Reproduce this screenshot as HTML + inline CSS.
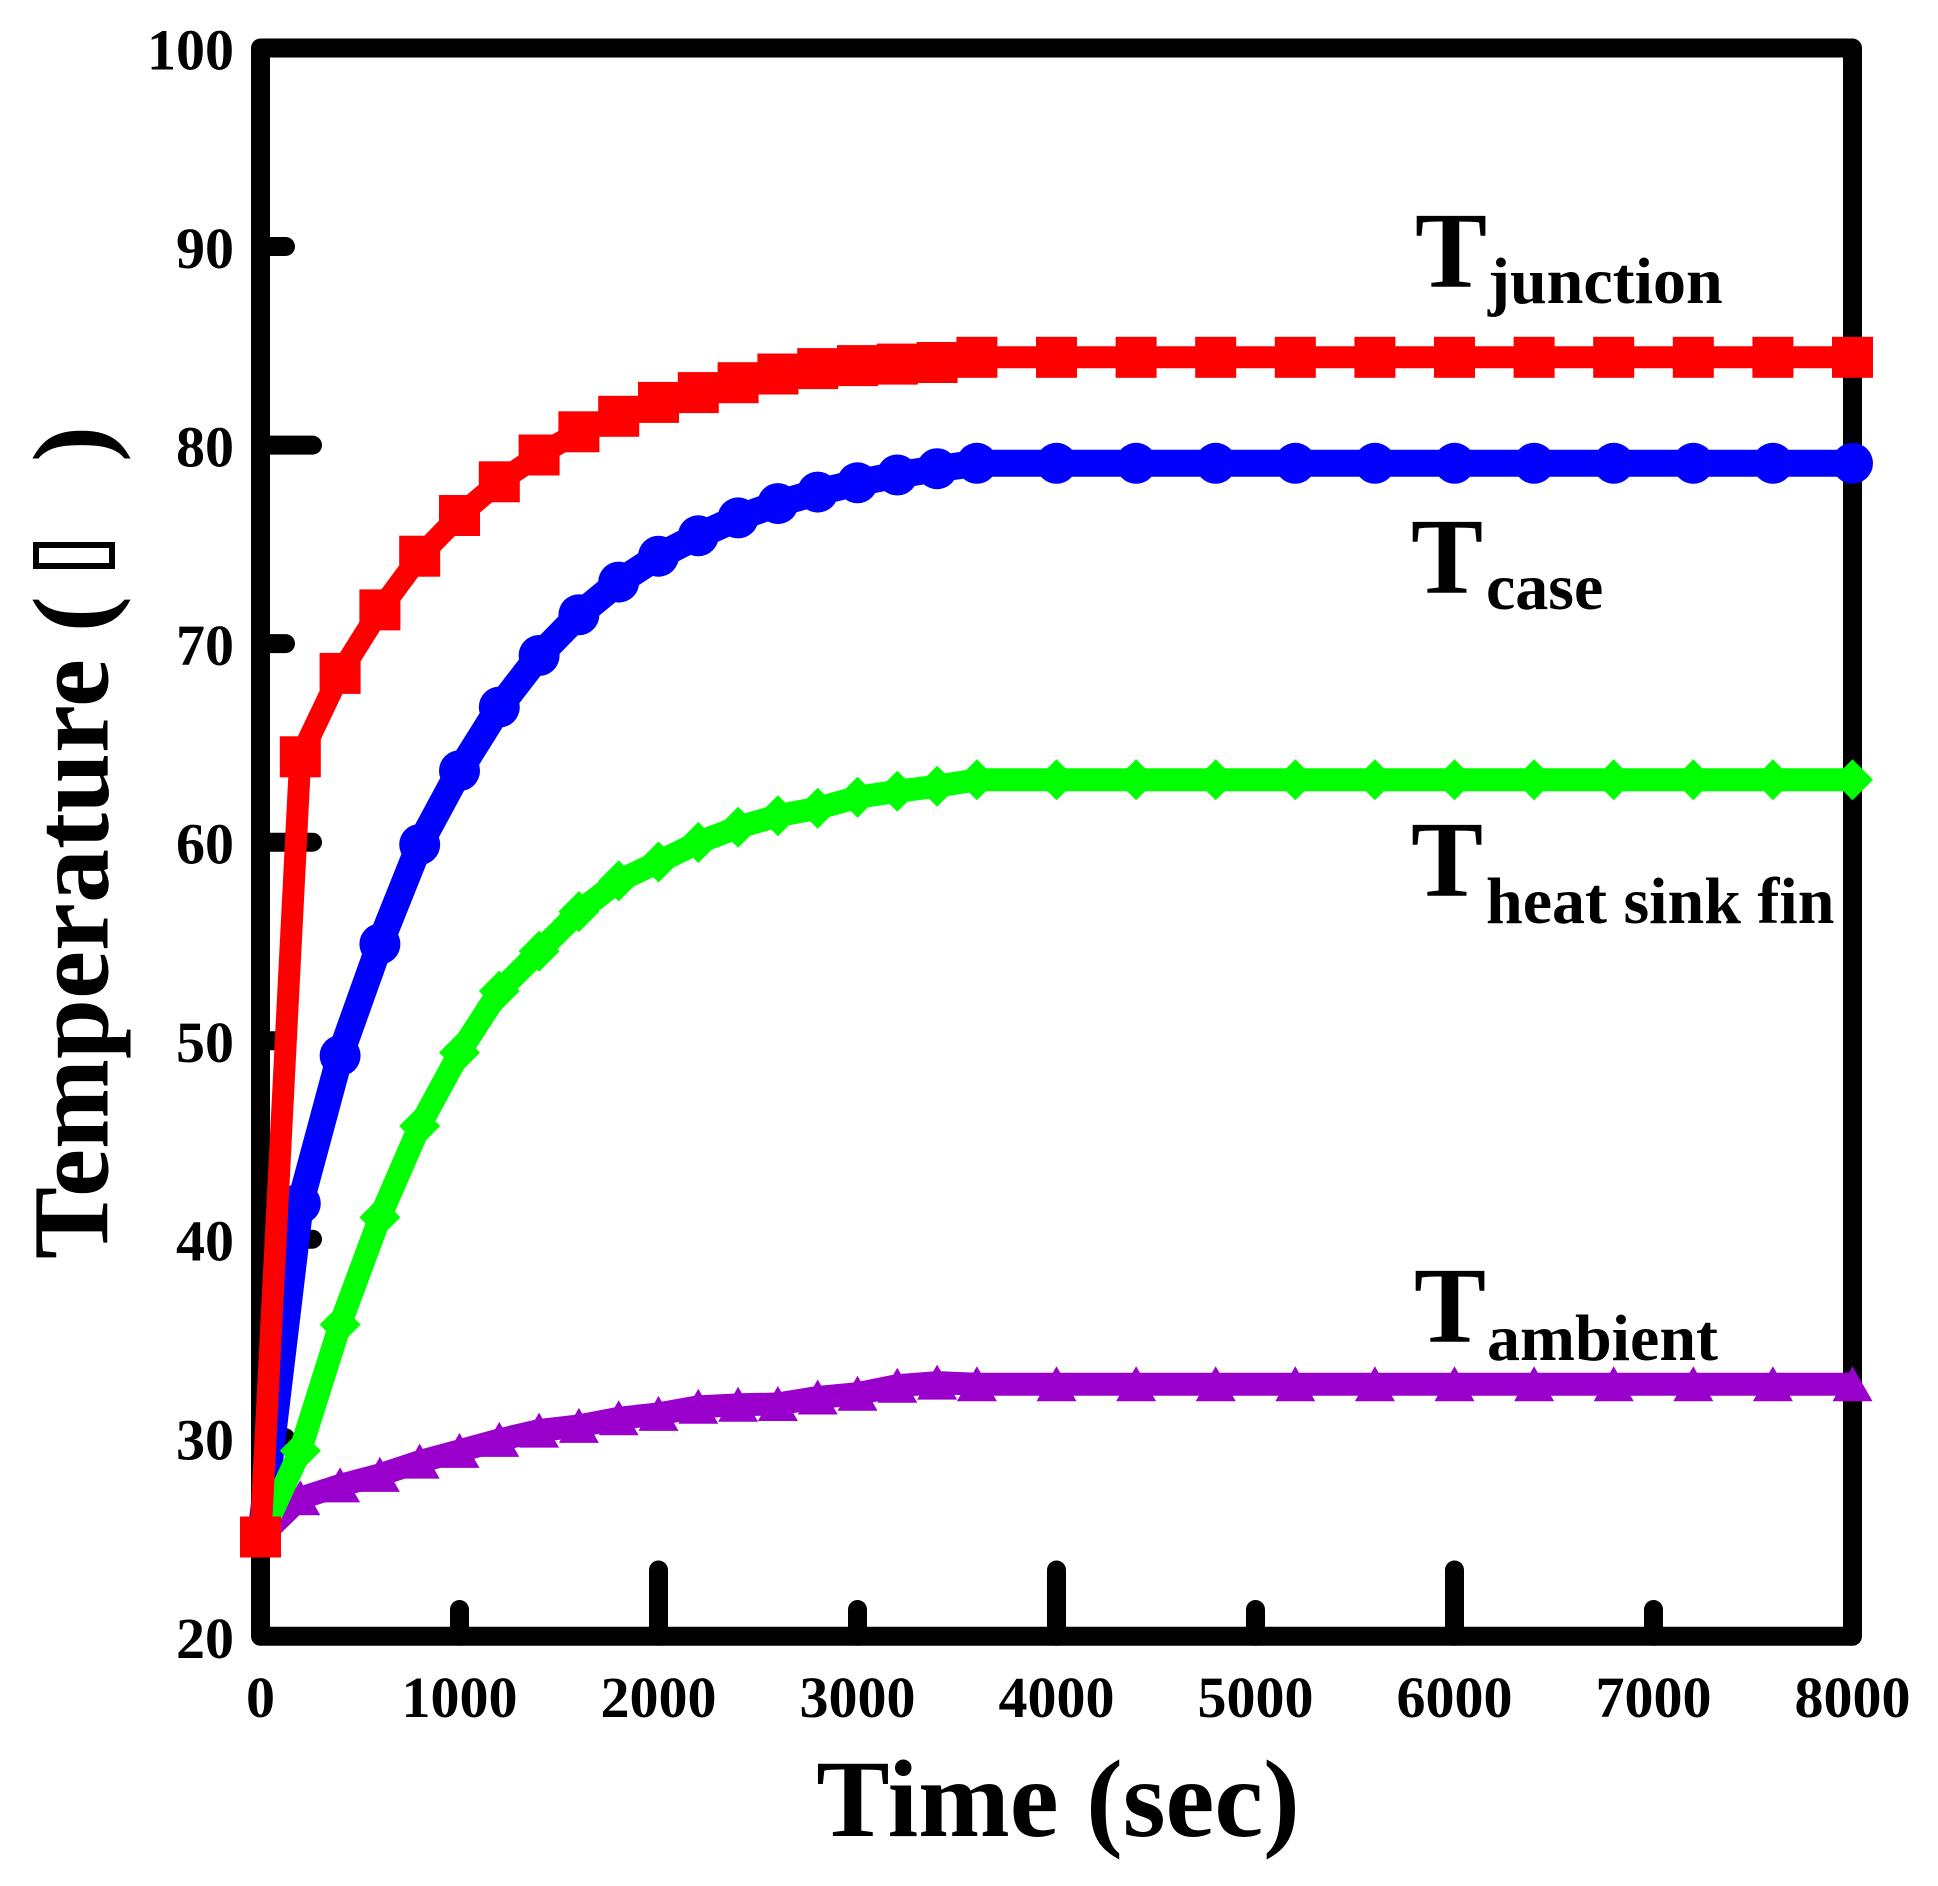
<!DOCTYPE html>
<html>
<head>
<meta charset="utf-8">
<style>
html,body{margin:0;padding:0;background:#fff;}
svg{display:block;}
text{font-family:"Liberation Serif","Times New Roman",serif;font-weight:bold;fill:#000;}
</style>
</head>
<body>
<svg width="1938" height="1886" viewBox="0 0 1938 1886" xmlns="http://www.w3.org/2000/svg">
<defs>
  <rect id="sq" x="-20.5" y="-20.5" width="41" height="41" fill="#ff0000"/>
  <circle id="ci" cx="0" cy="0" r="20.5" fill="#0000ff"/>
  <polygon id="di" points="0,-20.5 20.5,0 0,20.5 -20.5,0" fill="#00ff00"/>
  <polygon id="tr" points="0,-18 20,17 -20,17" fill="#9900cc"/>
</defs>
<rect width="1938" height="1886" fill="#fff"/>

<!-- ticks -->
<g stroke="#000" stroke-width="19" stroke-linecap="round" fill="none">
  <line x1="260.5" y1="246.5" x2="285.5" y2="246.5"/>
  <line x1="260.5" y1="445.1" x2="312.5" y2="445.1"/>
  <line x1="260.5" y1="643.6" x2="285.5" y2="643.6"/>
  <line x1="260.5" y1="842.2" x2="312.5" y2="842.2"/>
  <line x1="260.5" y1="1040.7" x2="285.5" y2="1040.7"/>
  <line x1="260.5" y1="1239.2" x2="312.5" y2="1239.2"/>
  <line x1="260.5" y1="1437.8" x2="285.5" y2="1437.8"/>
  <line x1="459.5" y1="1636.3" x2="459.5" y2="1609.5"/>
  <line x1="658.5" y1="1636.3" x2="658.5" y2="1570"/>
  <line x1="857.5" y1="1636.3" x2="857.5" y2="1609.5"/>
  <line x1="1056.5" y1="1636.3" x2="1056.5" y2="1570"/>
  <line x1="1255.5" y1="1636.3" x2="1255.5" y2="1609.5"/>
  <line x1="1454.5" y1="1636.3" x2="1454.5" y2="1570"/>
  <line x1="1653.5" y1="1636.3" x2="1653.5" y2="1609.5"/>
</g>
<!-- frame -->
<rect x="260.5" y="48" width="1592" height="1588.3" fill="none" stroke="#000" stroke-width="19" stroke-linejoin="round"/>

<!-- y tick labels -->
<g font-size="58" text-anchor="end">
  <text x="234" y="69.5">100</text>
  <text x="234" y="268">90</text>
  <text x="234" y="466.6">80</text>
  <text x="234" y="665.1">70</text>
  <text x="234" y="863.7">60</text>
  <text x="234" y="1062.2">50</text>
  <text x="234" y="1260.7">40</text>
  <text x="234" y="1459.3">30</text>
  <text x="234" y="1657.8">20</text>
</g>
<!-- x tick labels -->
<g font-size="58" text-anchor="middle">
  <text x="260.5" y="1717">0</text>
  <text x="459.5" y="1717">1000</text>
  <text x="658.5" y="1717">2000</text>
  <text x="857.5" y="1717">3000</text>
  <text x="1056.5" y="1717">4000</text>
  <text x="1255.5" y="1717">5000</text>
  <text x="1454.5" y="1717">6000</text>
  <text x="1653.5" y="1717">7000</text>
  <text x="1852.5" y="1717">8000</text>
</g>

<!-- axis titles -->
<text x="1058" y="1836" font-size="110" text-anchor="middle">Time (sec)</text>
<g transform="translate(107.5,1259) rotate(-90)">
  <text x="0" y="0" font-size="108">Temperature (</text>
  <rect x="693" y="-71.5" width="21" height="76" fill="none" stroke="#000" stroke-width="6"/>
  <text x="797" y="0" font-size="108">)</text>
</g>

<!-- Purple: ambient -->
<g>
<polyline fill="none" stroke="#9900cc" stroke-width="23" stroke-linejoin="round" points="260.5,1537.0 300.3,1498.3 340.1,1485.4 379.9,1474.9 419.7,1461.6 459.5,1450.9 499.3,1439.9 539.1,1430.6 578.9,1425.9 618.7,1418.3 658.5,1413.9 698.3,1406.8 738.1,1404.8 777.9,1404.0 817.7,1397.5 857.5,1393.7 897.3,1385.7 937.1,1382.6 976.9,1384.2 1056.5,1384.2 1136.1,1384.2 1215.7,1384.2 1295.3,1384.2 1374.9,1384.2 1454.5,1384.2 1534.1,1384.2 1613.7,1384.2 1693.3,1384.2 1772.9,1384.2 1852.5,1384.2"/>
<use href="#tr" x="260.5" y="1537.0"/><use href="#tr" x="300.3" y="1498.3"/><use href="#tr" x="340.1" y="1485.4"/><use href="#tr" x="379.9" y="1474.9"/><use href="#tr" x="419.7" y="1461.6"/><use href="#tr" x="459.5" y="1450.9"/><use href="#tr" x="499.3" y="1439.9"/><use href="#tr" x="539.1" y="1430.6"/><use href="#tr" x="578.9" y="1425.9"/><use href="#tr" x="618.7" y="1418.3"/><use href="#tr" x="658.5" y="1413.9"/><use href="#tr" x="698.3" y="1406.8"/><use href="#tr" x="738.1" y="1404.8"/><use href="#tr" x="777.9" y="1404.0"/><use href="#tr" x="817.7" y="1397.5"/><use href="#tr" x="857.5" y="1393.7"/><use href="#tr" x="897.3" y="1385.7"/><use href="#tr" x="937.1" y="1382.6"/><use href="#tr" x="976.9" y="1384.2"/><use href="#tr" x="1056.5" y="1384.2"/><use href="#tr" x="1136.1" y="1384.2"/><use href="#tr" x="1215.7" y="1384.2"/><use href="#tr" x="1295.3" y="1384.2"/><use href="#tr" x="1374.9" y="1384.2"/><use href="#tr" x="1454.5" y="1384.2"/><use href="#tr" x="1534.1" y="1384.2"/><use href="#tr" x="1613.7" y="1384.2"/><use href="#tr" x="1693.3" y="1384.2"/><use href="#tr" x="1772.9" y="1384.2"/><use href="#tr" x="1852.5" y="1384.2"/>
</g>

<!-- Blue: case -->
<g>
<polyline fill="none" stroke="#0000ff" stroke-width="27" stroke-linejoin="round" points="260.5,1537.0 300.3,1203.5 340.1,1055.6 379.9,944.0 419.7,844.5 459.5,770.7 499.3,707.1 539.1,655.5 578.9,614.8 618.7,582.1 658.5,556.2 698.3,535.8 738.1,517.9 777.9,503.6 817.7,492.1 857.5,482.8 897.3,475.0 937.1,468.7 976.9,463.3 1056.5,463.3 1136.1,463.3 1215.7,463.3 1295.3,463.3 1374.9,463.3 1454.5,463.3 1534.1,463.3 1613.7,463.3 1693.3,463.3 1772.9,463.3 1852.5,463.3"/>
<use href="#ci" x="260.5" y="1537.0"/><use href="#ci" x="300.3" y="1203.5"/><use href="#ci" x="340.1" y="1055.6"/><use href="#ci" x="379.9" y="944.0"/><use href="#ci" x="419.7" y="844.5"/><use href="#ci" x="459.5" y="770.7"/><use href="#ci" x="499.3" y="707.1"/><use href="#ci" x="539.1" y="655.5"/><use href="#ci" x="578.9" y="614.8"/><use href="#ci" x="618.7" y="582.1"/><use href="#ci" x="658.5" y="556.2"/><use href="#ci" x="698.3" y="535.8"/><use href="#ci" x="738.1" y="517.9"/><use href="#ci" x="777.9" y="503.6"/><use href="#ci" x="817.7" y="492.1"/><use href="#ci" x="857.5" y="482.8"/><use href="#ci" x="897.3" y="475.0"/><use href="#ci" x="937.1" y="468.7"/><use href="#ci" x="976.9" y="463.3"/><use href="#ci" x="1056.5" y="463.3"/><use href="#ci" x="1136.1" y="463.3"/><use href="#ci" x="1215.7" y="463.3"/><use href="#ci" x="1295.3" y="463.3"/><use href="#ci" x="1374.9" y="463.3"/><use href="#ci" x="1454.5" y="463.3"/><use href="#ci" x="1534.1" y="463.3"/><use href="#ci" x="1613.7" y="463.3"/><use href="#ci" x="1693.3" y="463.3"/><use href="#ci" x="1772.9" y="463.3"/><use href="#ci" x="1852.5" y="463.3"/>
</g>

<!-- Green: heat sink fin -->
<g>
<polyline fill="none" stroke="#00ff00" stroke-width="23" stroke-linejoin="round" points="260.5,1537.0 300.3,1450.7 340.1,1324.6 379.9,1217.4 419.7,1126.0 459.5,1052.6 499.3,991.0 539.1,951.3 578.9,911.6 618.7,880.9 658.5,862.0 698.3,842.5 738.1,827.3 777.9,815.7 817.7,808.2 857.5,797.3 897.3,791.3 937.1,786.2 976.9,779.8 1056.5,779.8 1136.1,779.8 1215.7,779.8 1295.3,779.8 1374.9,779.8 1454.5,779.8 1534.1,779.8 1613.7,779.8 1693.3,779.8 1772.9,779.8 1852.5,779.8"/>
<use href="#di" x="260.5" y="1537.0"/><use href="#di" x="300.3" y="1450.7"/><use href="#di" x="340.1" y="1324.6"/><use href="#di" x="379.9" y="1217.4"/><use href="#di" x="419.7" y="1126.0"/><use href="#di" x="459.5" y="1052.6"/><use href="#di" x="499.3" y="991.0"/><use href="#di" x="539.1" y="951.3"/><use href="#di" x="578.9" y="911.6"/><use href="#di" x="618.7" y="880.9"/><use href="#di" x="658.5" y="862.0"/><use href="#di" x="698.3" y="842.5"/><use href="#di" x="738.1" y="827.3"/><use href="#di" x="777.9" y="815.7"/><use href="#di" x="817.7" y="808.2"/><use href="#di" x="857.5" y="797.3"/><use href="#di" x="897.3" y="791.3"/><use href="#di" x="937.1" y="786.2"/><use href="#di" x="976.9" y="779.8"/><use href="#di" x="1056.5" y="779.8"/><use href="#di" x="1136.1" y="779.8"/><use href="#di" x="1215.7" y="779.8"/><use href="#di" x="1295.3" y="779.8"/><use href="#di" x="1374.9" y="779.8"/><use href="#di" x="1454.5" y="779.8"/><use href="#di" x="1534.1" y="779.8"/><use href="#di" x="1613.7" y="779.8"/><use href="#di" x="1693.3" y="779.8"/><use href="#di" x="1772.9" y="779.8"/><use href="#di" x="1852.5" y="779.8"/>
</g>

<!-- Red: junction -->
<g>
<polyline fill="none" stroke="#ff0000" stroke-width="22" stroke-linejoin="round" points="260.5,1537.0 300.3,756.8 340.1,673.4 379.9,609.9 419.7,556.2 459.5,515.5 499.3,481.8 539.1,455.0 578.9,431.8 618.7,416.3 658.5,402.4 698.3,392.6 738.1,382.7 777.9,374.0 817.7,368.6 857.5,365.6 897.3,364.1 937.1,362.5 976.9,357.3 1056.5,357.3 1136.1,357.3 1215.7,357.3 1295.3,357.3 1374.9,357.3 1454.5,357.3 1534.1,357.3 1613.7,357.3 1693.3,357.3 1772.9,357.3 1852.5,357.3"/>
<use href="#sq" x="260.5" y="1537.0"/><use href="#sq" x="300.3" y="756.8"/><use href="#sq" x="340.1" y="673.4"/><use href="#sq" x="379.9" y="609.9"/><use href="#sq" x="419.7" y="556.2"/><use href="#sq" x="459.5" y="515.5"/><use href="#sq" x="499.3" y="481.8"/><use href="#sq" x="539.1" y="455.0"/><use href="#sq" x="578.9" y="431.8"/><use href="#sq" x="618.7" y="416.3"/><use href="#sq" x="658.5" y="402.4"/><use href="#sq" x="698.3" y="392.6"/><use href="#sq" x="738.1" y="382.7"/><use href="#sq" x="777.9" y="374.0"/><use href="#sq" x="817.7" y="368.6"/><use href="#sq" x="857.5" y="365.6"/><use href="#sq" x="897.3" y="364.1"/><use href="#sq" x="937.1" y="362.5"/><use href="#sq" x="976.9" y="357.3"/><use href="#sq" x="1056.5" y="357.3"/><use href="#sq" x="1136.1" y="357.3"/><use href="#sq" x="1215.7" y="357.3"/><use href="#sq" x="1295.3" y="357.3"/><use href="#sq" x="1374.9" y="357.3"/><use href="#sq" x="1454.5" y="357.3"/><use href="#sq" x="1534.1" y="357.3"/><use href="#sq" x="1613.7" y="357.3"/><use href="#sq" x="1693.3" y="357.3"/><use href="#sq" x="1772.9" y="357.3"/><use href="#sq" x="1852.5" y="357.3"/>
</g>

<!-- series labels -->
<text x="1415" y="287" font-size="108">T</text>
<text x="1488" y="303" font-size="66">junction</text>
<text x="1411" y="593" font-size="108">T</text>
<text x="1486" y="609" font-size="66">case</text>
<text x="1411" y="896" font-size="108">T</text>
<text x="1486" y="923" font-size="66">heat sink fin</text>
<text x="1414" y="1342" font-size="108">T</text>
<text x="1487" y="1360" font-size="66">ambient</text>
</svg>
</body>
</html>
